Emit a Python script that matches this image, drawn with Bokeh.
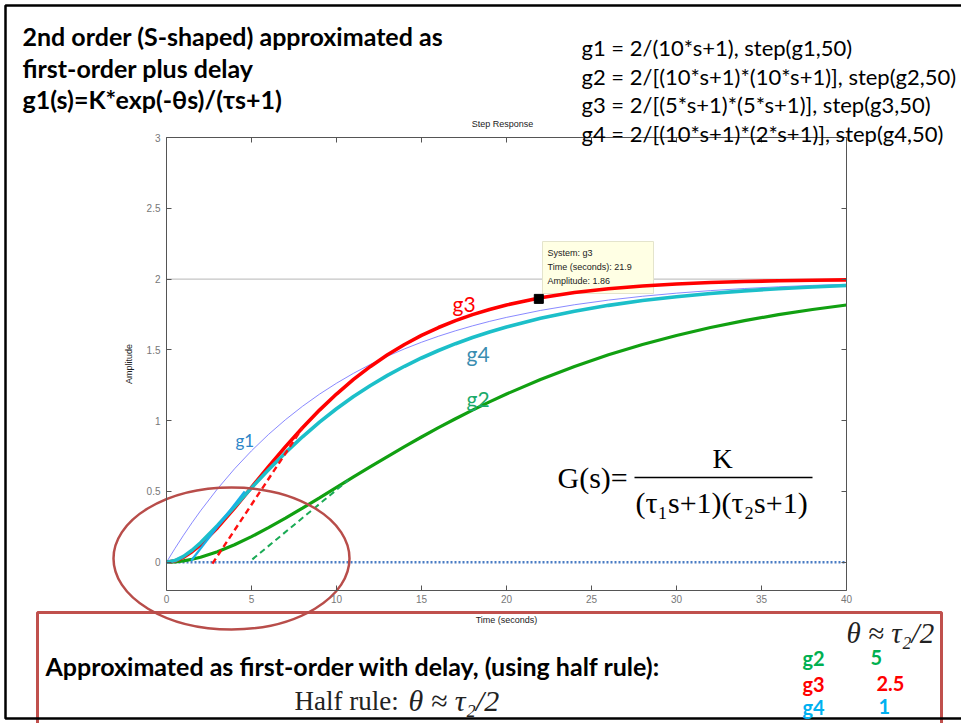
import numpy as np
from bokeh.plotting import figure
from bokeh.models import (Label, LinearAxis, Range1d, FixedTicker,
                          NumeralTickFormatter)
from bokeh.embed import file_html
from bokeh.resources import INLINE

# ---------------- step responses (time in s, amplitude) ----------------
t = [0, 0.5, 1, 1.5, 2, 3, 4, 5, 6, 7, 8, 9, 10, 11, 12, 13, 14, 15, 16, 17,
     18, 19, 20, 22, 24, 26, 28, 30, 32, 34, 36, 38, 40]
g1 = [0, 0.0975, 0.1903, 0.2786, 0.3625, 0.5184, 0.6594, 0.7869, 0.9024, 1.0068,
      1.1013, 1.1869, 1.2642, 1.3343, 1.3976, 1.4549, 1.5068, 1.5537, 1.5962,
      1.6346, 1.6694, 1.7009, 1.7293, 1.7784, 1.8186, 1.8515, 1.8784, 1.9004,
      1.9185, 1.9333, 1.9454, 1.9553, 1.9634]
g2 = [0, 0.0024, 0.0094, 0.0204, 0.0350, 0.0739, 0.1231, 0.1804, 0.2438, 0.3116,
      0.3824, 0.4550, 0.5285, 0.6019, 0.6747, 0.7464, 0.8163, 0.8843, 0.9501,
      1.0135, 1.0743, 1.1325, 1.1880, 1.2909, 1.3831, 1.4652, 1.5378, 1.6017,
      1.6576, 1.7063, 1.7486, 1.7852, 1.8168]
g3 = [0, 0.0094, 0.0350, 0.0739, 0.1231, 0.2438, 0.3824, 0.5285, 0.6747, 0.8163,
      0.9501, 1.0743, 1.1880, 1.2909, 1.3831, 1.4652, 1.5378, 1.6017, 1.6576,
      1.7063, 1.7486, 1.7852, 1.8168, 1.8674, 1.9045, 1.9316, 1.9512, 1.9653,
      1.9754, 1.9826, 1.9878, 1.9914, 1.9940]
g4 = [0, 0.0113, 0.0412, 0.0844, 0.1371, 0.2595, 0.3919, 0.5247, 0.6529, 0.7736,
      0.8858, 0.9891, 1.0837, 1.1699, 1.2483, 1.3194, 1.3840, 1.4425, 1.4954,
      1.5434, 1.5868, 1.6261, 1.6617, 1.7230, 1.7732, 1.8143, 1.8480, 1.8755,
      1.8981, 1.9166, 1.9317, 1.9441, 1.9542]

# hand-sketched delay/tangent construction lines
g3_tan_t, g3_tan_y = [2.7, 8.0], [-0.01, 0.95]
g2_tan_t, g2_tan_y = [5.05, 10.7], [0.02, 0.58]
g4_tan_t, g4_tan_y = [1.45, 4.6], [0.01, 0.50]

steady_state = 2.0
tip_system, tip_t, tip_amp = "g3", 21.9, 1.86

x_ticks = [0, 5, 10, 15, 20, 25, 30, 35, 40]
y_ticks = [0, 0.5, 1, 1.5, 2, 2.5, 3]

half_rule_sys = ["g2", "g3", "g4"]
half_rule_theta = ["5", "2.5", "1"]
half_rule_colors = ["#00b050", "#ff0000", "#00b0f0"]

# ---------------- page geometry ----------------
W, H = 961, 723
FL, FR, FT, FB = 166, 846, 137, 590          # axes box on the page (px)
T0, T1, A0, A1 = 0.0, 40.0, -0.2, 3.0        # axes limits


def dx(px):
    return T0 + (px - FL) * (T1 - T0) / (FR - FL)


def dy(py):
    return A1 - (py - FT) * (A1 - A0) / (FB - FT)


def dw(px):
    return px * (T1 - T0) / (FR - FL)


def dh(py):
    return py * (A1 - A0) / (FB - FT)


# the plotting frame covers the whole page; the axes box sits inside it
p = figure(width=W, height=H, x_range=Range1d(dx(0), dx(W)),
           y_range=Range1d(dy(H), dy(0)),
           output_backend="svg", toolbar_location=None,
           min_border=0, min_border_left=0, min_border_right=0,
           min_border_top=0, min_border_bottom=0,
           x_axis_label="Time (seconds)", y_axis_label="Amplitude")
p.title.visible = False
p.background_fill_color = "white"
p.border_fill_color = "white"
p.outline_line_color = None
p.xgrid.visible = False
p.ygrid.visible = False

AX = "#555555"
xa, ya = p.xaxis[0], p.yaxis[0]
xa.fixed_location = A0
xa.bounds = (T0, T1)
ya.fixed_location = T0
ya.bounds = (A0, A1)
for ax in (xa, ya):
    ax.major_tick_in = 5
    ax.major_tick_out = 0
    ax.minor_tick_line_color = None
    ax.axis_line_color = AX
    ax.major_tick_line_color = AX
    ax.major_label_text_color = "#777777"
    ax.major_label_text_font = "Liberation Sans"
    ax.major_label_text_font_size = "10px"
    ax.axis_label_text_font = "Liberation Sans"
    ax.axis_label_text_font_style = "normal"
    ax.axis_label_text_font_size = "9px"
    ax.axis_label_text_color = "#222222"
xa.ticker = FixedTicker(ticks=x_ticks)
ya.ticker = FixedTicker(ticks=y_ticks)
ya.formatter = NumeralTickFormatter(format="0.[0]")
xa.major_label_standoff = 4
xa.axis_label_standoff = 9
ya.major_label_standoff = 6
ya.axis_label_standoff = 10

# box edges with inward ticks
top_ax = LinearAxis(ticker=FixedTicker(ticks=x_ticks), fixed_location=A1,
                    bounds=(T0, T1))
right_ax = LinearAxis(ticker=FixedTicker(ticks=y_ticks), fixed_location=T1,
                      bounds=(A0, A1))
for ax in (top_ax, right_ax):
    ax.major_tick_in = 5
    ax.major_tick_out = 0
    ax.minor_tick_line_color = None
    ax.axis_line_color = AX
    ax.major_tick_line_color = AX
    ax.major_label_text_color = None
p.add_layout(top_ax, "above")
p.add_layout(right_ax, "right")

# steady-state and zero reference lines
p.segment(x0=T0, x1=T1, y0=steady_state, y1=steady_state, line_color="#8a8a8a",
          line_width=1.2, line_dash="1 1")
p.segment(x0=T0, x1=T1, y0=0, y1=0, line_color="#4a7cc4", line_width=2.5,
          line_dash="2 2")

# data tip background
p.quad(left=dx(542), right=dx(653), top=dy(241), bottom=dy(293),
       fill_color="#ffffe4", line_color="#e4e4cc", line_width=1)

# responses
p.line(t, g1, line_color="#5a5aff", line_width=0.8, line_alpha=0.9)
p.line(t, g2, line_color="#11a011", line_width=3.2)
p.line(t, g3, line_color="#ff0000", line_width=3.6)
p.line(t, g4, line_color="#1cbfc9", line_width=3.6)

# tangent sketches
p.line(g3_tan_t, g3_tan_y, line_color="#ff1010", line_width=2.4, line_dash="6 4")
p.line(g2_tan_t, g2_tan_y, line_color="#1aaa55", line_width=2.0, line_dash="6 4")
p.line(g4_tan_t, g4_tan_y, line_color="#18b0e8", line_width=2.2)

# data tip marker
p.scatter([tip_t], [tip_amp], marker="square", size=9, color="black")


def add_text(px, py, text, size, color="black", font="Lato", style="normal",
             align="left", baseline="middle"):
    p.add_layout(Label(x=dx(px), y=dy(py), text=text, text_font=font,
                       text_font_size=f"{size}px", text_color=color,
                       text_font_style=style, text_align=align,
                       text_baseline=baseline))


# data tip text
add_text(547, 252, f"System:  {tip_system}", 9, "#222222", "Liberation Sans")
add_text(547, 266, f"Time (seconds):  {tip_t}", 9, "#222222", "Liberation Sans")
add_text(547, 280, f"Amplitude:  {tip_amp}", 9, "#222222", "Liberation Sans")

add_text(502, 123, "Step Response", 9, "#222222", "Liberation Sans", align="center")

# curve tags
add_text(452, 303, "g3", 21, "#ff0000")
add_text(466, 353, "g4", 21, "#3a8db0")
add_text(466, 398, "g2", 21, "#1aaa6a")
add_text(235, 440, "g1", 17, "#2e86c8")

# transfer function
add_text(557, 477, "G(s)=", 30, "black", "Liberation Serif")
add_text(722, 458, "K", 28, "black", "Liberation Serif", align="center")
add_text(635, 502, "(τ₁s+1)(τ₂s+1)", 30, "black", "Liberation Serif")
p.segment(x0=dx(634), y0=dy(477), x1=dx(812), y1=dy(477), line_color="black",
          line_width=1.5)

# slide headings
add_text(22, 35, "2nd order (S-shaped) approximated as", 25, style="bold")
add_text(22, 67, "first-order plus delay", 25, style="bold")
add_text(22, 98, "g1(s)=K*exp(-θs)/(τs+1)", 25, style="bold")

add_text(581, 47, "g1 = 2/(10*s+1), step(g1,50)", 22)
add_text(581, 76, "g2 = 2/[(10*s+1)*(10*s+1)], step(g2,50)", 22)
add_text(581, 104, "g3 = 2/[(5*s+1)*(5*s+1)], step(g3,50)", 22)
add_text(581, 133, "g4 = 2/[(10*s+1)*(2*s+1)], step(g4,50)", 22)

# lower note box
p.quad(left=dx(37), right=dx(941), top=dy(612), bottom=dy(760),
       fill_color=None, line_color="#c0504d", line_width=3)

# highlight ellipse around the start of the responses
p.ellipse(x=dx(231), y=dy(558), width=dw(236), height=dh(142),
          fill_color=None, line_color="#b84d4a", line_width=2.5)

add_text(45, 665, "Approximated as first-order with delay, (using half rule):", 25,
         style="bold")
add_text(294, 700, "Half rule:", 27, "#222222", "Liberation Serif")
add_text(408, 700, "θ ≈ τ₂/2", 30, "#222222", "Liberation Serif", style="italic")
add_text(846, 632, "θ ≈ τ₂/2", 29, "#222222", "Liberation Serif", style="italic")

rows_y = [657, 683, 706]
theta_x = [870, 876, 878]
for name, th_val, col, ry, tx in zip(half_rule_sys, half_rule_theta,
                                     half_rule_colors, rows_y, theta_x):
    add_text(802, ry, name, 20, col, style="bold")
    add_text(tx, ry, th_val, 20, col, style="bold")

# slide frame
p.quad(left=dx(5), right=dx(1000), top=dy(5), bottom=dy(718),
       fill_color=None, line_color="black", line_width=2.5)

open("out.html", "w").write(file_html(p, INLINE))
